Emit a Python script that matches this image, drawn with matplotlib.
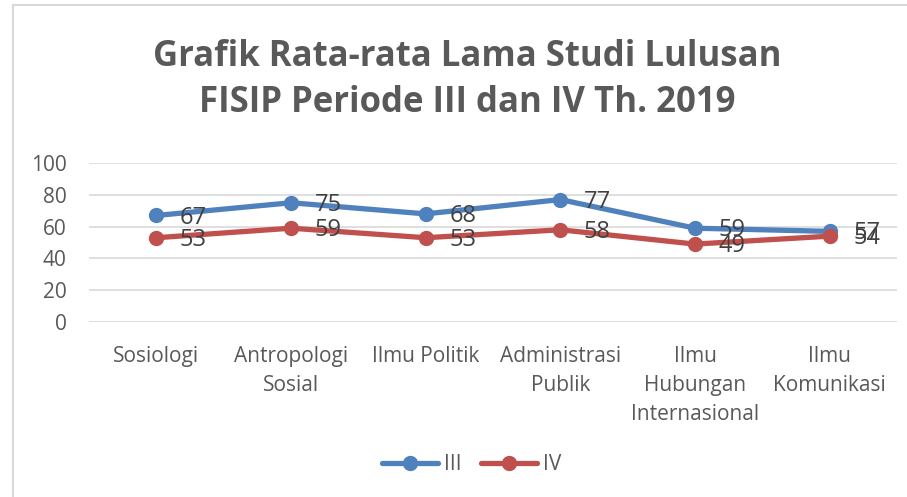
import matplotlib
matplotlib.use("Agg")
import matplotlib.pyplot as plt
from matplotlib.lines import Line2D

# data
categories = ["Sosiologi", "Antropologi\nSosial", "Ilmu Politik", "Administrasi\nPublik",
              "Ilmu\nHubungan\nInternasional", "Ilmu\nKomunikasi"]
periode_iii = [67, 75, 68, 77, 59, 57]
periode_iv = [53, 59, 53, 58, 49, 54]
series_names = ["III", "IV"]
y_ticks = [0, 20, 40, 60, 80, 100]

BLUE = "#4F81BD"
RED = "#C0504D"
TEXT = "#595959"
LABEL = "#404040"
GRID = "#D9D9D9"

plt.rcParams["font.family"] = ["Open Sans", "DejaVu Sans"]

fig = plt.figure(figsize=(9.07, 4.97), dpi=100)
fig.patch.set_facecolor("white")

# chart-area border (only left and top are visible in the crop)
fig.add_artist(Line2D([13 / 907, 13 / 907], [0, 1 - 5 / 497], color=GRID, lw=1.5))
fig.add_artist(Line2D([13 / 907, 1], [1 - 5 / 497, 1 - 5 / 497], color=GRID, lw=1.5))

ax = fig.add_axes([89 / 907, 1 - 322 / 497, (897 - 89) / 907, (322 - 163) / 497])
x = list(range(len(categories)))

for vals, color, name in [(periode_iii, BLUE, series_names[0]), (periode_iv, RED, series_names[1])]:
    ax.plot(x, vals, color=color, lw=3.8, marker="o", ms=10, label=name,
            solid_capstyle="round", zorder=3)
    for xi, v in zip(x, vals):
        ax.annotate(str(v), (xi, v), xytext=(17, -1.5), textcoords="offset points",
                    ha="left", va="center", fontsize=17, color=LABEL, zorder=4)

ax.set_xlim(-0.5, len(categories) - 0.5)
ax.set_ylim(0, 100)
ax.set_yticks(y_ticks)
ax.set_xticks(x)
ax.set_xticklabels(categories, fontsize=15, color=TEXT, linespacing=1.5, va="top")
ax.tick_params(axis="y", labelsize=15, labelcolor=TEXT, length=0, pad=16)
ax.tick_params(axis="x", length=0, pad=17)
ax.grid(True, axis="y", color=GRID, lw=1.2)
ax.set_axisbelow(True)
for s in ax.spines.values():
    s.set_visible(False)

fig.text(0.515, 1 - 80 / 497, "Grafik Rata-rata Lama Studi Lulusan\nFISIP Periode III dan IV Th. 2019",
         ha="center", va="center", fontsize=25, fontweight="bold", color=TEXT, linespacing=1.4)

fig.legend(loc="center", bbox_to_anchor=(0.52, 1 - 465 / 497), ncol=2, frameon=False,
           fontsize=15, labelcolor=TEXT, handlelength=2.7, columnspacing=0.9, handletextpad=0.3)

fig.savefig("out.png", dpi=100, facecolor="white")
